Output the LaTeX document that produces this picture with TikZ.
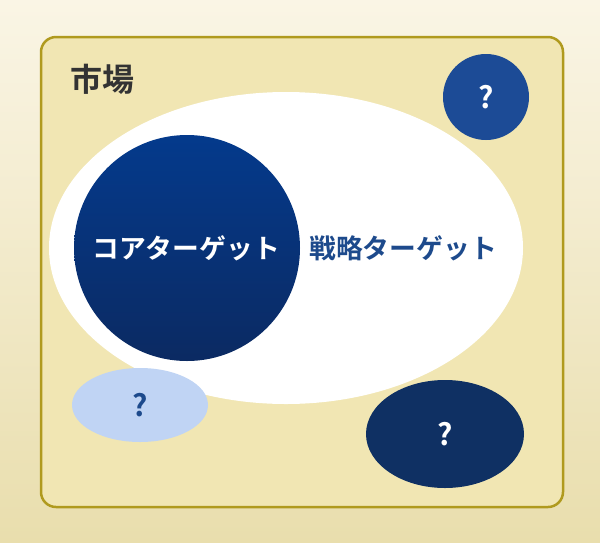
\documentclass[tikz,border=0pt]{standalone}
\usepackage{fontspec}
\newfontfamily\jp{Noto Sans CJK JP}[BoldFont={Noto Sans CJK JP Bold}]
\begin{document}
\begin{tikzpicture}[x=1pt,y=-1pt,
  qmark/.style={font=\jp\bfseries\fontsize{30}{32}\selectfont},
  biglabel/.style={font=\jp\bfseries\fontsize{26.8}{29}\selectfont}]
\definecolor{bgtop}{HTML}{FAF5E5}
\definecolor{bgbot}{HTML}{E9DEAD}
\definecolor{panel}{HTML}{F1E6B3}
\definecolor{panelrim}{HTML}{B09A1E}
\definecolor{coretop}{HTML}{043A8C}
\definecolor{corebot}{HTML}{0B2A62}
\definecolor{bluemid}{HTML}{1C4B96}
\definecolor{bluedark}{HTML}{0F3063}
\definecolor{bluelight}{HTML}{C0D4F4}
\definecolor{stratext}{HTML}{1D4A8C}
\useasboundingbox (0,0) rectangle (600,542);
\shade[top color=bgtop, bottom color=bgbot] (0,0) rectangle (600,542);
\draw[panelrim, line width=2.5pt, fill=panel, rounded corners=15pt] (41,37) rectangle (563,507);
\node[anchor=center, text=black!80, font=\jp\bfseries\fontsize{32}{34}\selectfont] (market) at (102,79) {市場};
\fill[white] (286,248) ellipse [x radius=237, y radius=156];
\shade[top color=coretop, bottom color=corebot] (187,248) circle [radius=113];
\node[biglabel, text=white] (core) at (186,248) {コアターゲット};
\node[biglabel, text=stratext] (strat) at (403,248) {戦略ターゲット};
\fill[bluemid] (486,97) circle [radius=43];
\node[qmark, text=white] (q1) at (486,97) {?};
\fill[bluelight] (140,405) ellipse [x radius=68, y radius=37];
\node[qmark, text=stratext] (q2) at (140,405) {?};
\fill[bluedark] (445,434) ellipse [x radius=79, y radius=54];
\node[qmark, text=white] (q3) at (445,434) {?};
\end{tikzpicture}
\end{document}
